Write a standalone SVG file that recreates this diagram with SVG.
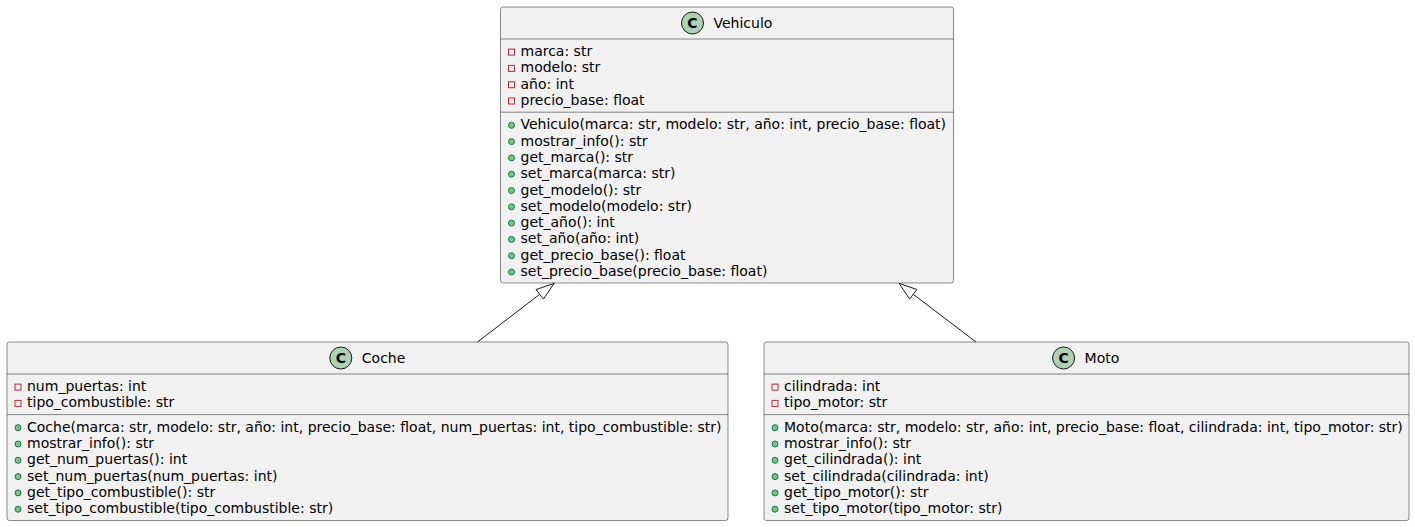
<svg xmlns="http://www.w3.org/2000/svg" width="1415" height="527" viewBox="0 0 1415 527">
<style>
.box{fill:#F1F1F1;stroke:#181818;stroke-width:0.5}
.sep{stroke:#181818;stroke-width:0.5}
.nm{font-family:"DejaVu Sans",sans-serif;font-size:14px;fill:#000000}
.mb{font-family:"DejaVu Sans",sans-serif;font-size:14px;fill:#000000}
.sp{fill:#ADD1B2;stroke:#181818;stroke-width:1}
.sc{font-family:"DejaVu Sans",sans-serif;font-size:14px;font-weight:bold;fill:#000000;text-anchor:middle}
.pv{fill:none;stroke:#C82930;stroke-width:1}
.pb{fill:#84BE84;stroke:#038048;stroke-width:1}
.cn{stroke:#181818;stroke-width:1;fill:none}
</style>
<rect width="1415" height="527" fill="#FFFFFF"/>
<g id="Vehiculo">
<rect class="box" x="500.5" y="7" width="453" height="276" rx="2.5"/>
<circle class="sp" cx="692.5" cy="23" r="11"/>
<text class="sc" x="692.5" y="28">C</text>
<text class="nm" x="713.5" y="28">Vehiculo</text>
<line class="sep" x1="500.5" y1="39" x2="953.5" y2="39"/>
<rect class="pv" x="508.5" y="49.1" width="6" height="6"/><text class="mb" x="520.5" y="56.1">marca: str</text>
<rect class="pv" x="508.5" y="65.4" width="6" height="6"/><text class="mb" x="520.5" y="72.4">modelo: str</text>
<rect class="pv" x="508.5" y="81.7" width="6" height="6"/><text class="mb" x="520.5" y="88.7">año: int</text>
<rect class="pv" x="508.5" y="98" width="6" height="6"/><text class="mb" x="520.5" y="105">precio_base: float</text>
<line class="sep" x1="500.5" y1="112.2" x2="953.5" y2="112.2"/>
<circle class="pb" cx="511.5" cy="125.3" r="3"/><text class="mb" x="520.5" y="129.3">Vehiculo(marca: str, modelo: str, año: int, precio_base: float)</text>
<circle class="pb" cx="511.5" cy="141.6" r="3"/><text class="mb" x="520.5" y="145.6">mostrar_info(): str</text>
<circle class="pb" cx="511.5" cy="157.9" r="3"/><text class="mb" x="520.5" y="161.9">get_marca(): str</text>
<circle class="pb" cx="511.5" cy="174.2" r="3"/><text class="mb" x="520.5" y="178.2">set_marca(marca: str)</text>
<circle class="pb" cx="511.5" cy="190.5" r="3"/><text class="mb" x="520.5" y="194.5">get_modelo(): str</text>
<circle class="pb" cx="511.5" cy="206.8" r="3"/><text class="mb" x="520.5" y="210.8">set_modelo(modelo: str)</text>
<circle class="pb" cx="511.5" cy="223.1" r="3"/><text class="mb" x="520.5" y="227.1">get_año(): int</text>
<circle class="pb" cx="511.5" cy="239.4" r="3"/><text class="mb" x="520.5" y="243.4">set_año(año: int)</text>
<circle class="pb" cx="511.5" cy="255.7" r="3"/><text class="mb" x="520.5" y="259.7">get_precio_base(): float</text>
<circle class="pb" cx="511.5" cy="272" r="3"/><text class="mb" x="520.5" y="276">set_precio_base(precio_base: float)</text>
</g>
<g id="Coche">
<rect class="box" x="7" y="342" width="721" height="178.5" rx="2.5"/>
<circle class="sp" cx="340.8" cy="358" r="11"/>
<text class="sc" x="340.8" y="363">C</text>
<text class="nm" x="361.8" y="363">Coche</text>
<line class="sep" x1="7" y1="374" x2="728" y2="374"/>
<rect class="pv" x="15" y="384.1" width="6" height="6"/><text class="mb" x="27" y="391.1">num_puertas: int</text>
<rect class="pv" x="15" y="400.4" width="6" height="6"/><text class="mb" x="27" y="407.4">tipo_combustible: str</text>
<line class="sep" x1="7" y1="414.6" x2="728" y2="414.6"/>
<circle class="pb" cx="18" cy="427.7" r="3"/><text class="mb" x="27" y="431.7">Coche(marca: str, modelo: str, año: int, precio_base: float, num_puertas: int, tipo_combustible: str)</text>
<circle class="pb" cx="18" cy="444" r="3"/><text class="mb" x="27" y="448">mostrar_info(): str</text>
<circle class="pb" cx="18" cy="460.3" r="3"/><text class="mb" x="27" y="464.3">get_num_puertas(): int</text>
<circle class="pb" cx="18" cy="476.6" r="3"/><text class="mb" x="27" y="480.6">set_num_puertas(num_puertas: int)</text>
<circle class="pb" cx="18" cy="492.9" r="3"/><text class="mb" x="27" y="496.9">get_tipo_combustible(): str</text>
<circle class="pb" cx="18" cy="509.2" r="3"/><text class="mb" x="27" y="513.2">set_tipo_combustible(tipo_combustible: str)</text>
</g>
<g id="Moto">
<rect class="box" x="764" y="342" width="645" height="178.5" rx="2.5"/>
<circle class="sp" cx="1063.6" cy="358" r="11"/>
<text class="sc" x="1063.6" y="363">C</text>
<text class="nm" x="1084.6" y="363">Moto</text>
<line class="sep" x1="764" y1="374" x2="1409" y2="374"/>
<rect class="pv" x="772" y="384.1" width="6" height="6"/><text class="mb" x="784" y="391.1">cilindrada: int</text>
<rect class="pv" x="772" y="400.4" width="6" height="6"/><text class="mb" x="784" y="407.4">tipo_motor: str</text>
<line class="sep" x1="764" y1="414.6" x2="1409" y2="414.6"/>
<circle class="pb" cx="775" cy="427.7" r="3"/><text class="mb" x="784" y="431.7">Moto(marca: str, modelo: str, año: int, precio_base: float, cilindrada: int, tipo_motor: str)</text>
<circle class="pb" cx="775" cy="444" r="3"/><text class="mb" x="784" y="448">mostrar_info(): str</text>
<circle class="pb" cx="775" cy="460.3" r="3"/><text class="mb" x="784" y="464.3">get_cilindrada(): int</text>
<circle class="pb" cx="775" cy="476.6" r="3"/><text class="mb" x="784" y="480.6">set_cilindrada(cilindrada: int)</text>
<circle class="pb" cx="775" cy="492.9" r="3"/><text class="mb" x="784" y="496.9">get_tipo_motor(): str</text>
<circle class="pb" cx="775" cy="509.2" r="3"/><text class="mb" x="784" y="513.2">set_tipo_motor(tipo_motor: str)</text>
</g>
<g id="connectors">
<line class="cn" x1="477.5" y1="342" x2="539.7" y2="294.3"/>
<polygon class="cn" points="554.2,283.3 543.4,299.1 536,289.6"/>
<line class="cn" x1="976" y1="342" x2="913.3" y2="294.3"/>
<polygon class="cn" points="899,283.3 916.9,289.5 909.7,299.1"/>
</g>
</svg>
